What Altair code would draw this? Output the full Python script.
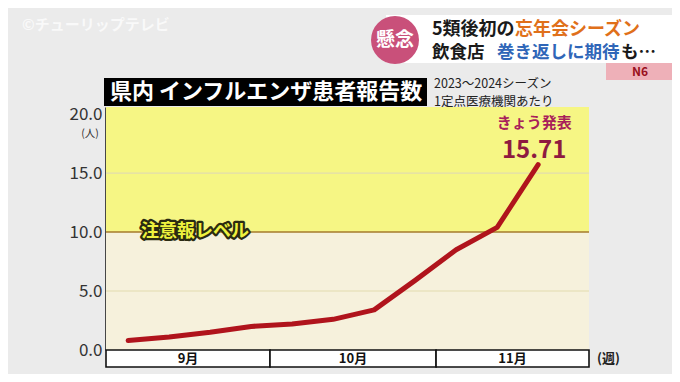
import altair as alt
import pandas as pd

# ---- data ----
weeks = list(range(1, 12))
cases = [0.8, 1.1, 1.5, 2.0, 2.2, 2.6, 3.4, 5.9, 8.5, 10.4, 15.71]
months = ["9月", "10月", "11月"]
month_start = [0.46, 4.46, 8.51]
month_end = [4.46, 8.51, 12.24]
y_ticks = [0, 5, 10, 15, 20]
minor_grid = [5, 15]
alert_level = 10.0
alert_label = "注意報レベル"
y_max = 20.6
x_min, x_max = 0.46, 12.24
latest_label = "きょう発表"
latest_text = "15.71"
title_text = "県内 インフルエンザ患者報告数"
subtitle_1 = "2023～2024シーズン"
subtitle_2 = "1定点医療機関あたり"

W, H = 483, 243
FONT = "Noto Sans CJK JP"

xs = alt.Scale(domain=[x_min, x_max], nice=False, zero=False)
ys = alt.Scale(domain=[0, y_max], nice=False)
yaxis = alt.Axis(values=y_ticks, format=".1f", ticks=False, grid=False,
                 domain=True, domainColor="#111", domainWidth=2.5,
                 labelFont=FONT, labelFontSize=17, labelColor="#333",
                 labelPadding=4, title=None)

line_df = pd.DataFrame({"week": weeks, "cases": cases})
band_df = pd.DataFrame({"lo": [0, alert_level], "hi": [alert_level, y_max],
                        "zone": ["below", "above"]})
grid_df = pd.DataFrame({"v": minor_grid})
level_df = pd.DataFrame({"v": [alert_level], "label": [alert_label]})
month_df = pd.DataFrame({"month": months, "start": month_start, "end": month_end})
latest_df = pd.DataFrame({"week": [weeks[-1]], "cases": [cases[-1]],
                          "lab": [latest_label], "val": [latest_text]})


def Y(field):
    return alt.Y(field, scale=ys, axis=yaxis, title=None)


bands = alt.Chart(band_df).mark_rect().encode(
    x=alt.value(0), x2=alt.value("width"),
    y=Y("lo:Q"), y2="hi:Q",
    color=alt.Color("zone:N", scale=alt.Scale(domain=["below", "above"],
                                              range=["#f6f1dc", "#f6f684"]),
                    legend=None),
)

grid = alt.Chart(grid_df).mark_rule(color="#e2dcae", strokeWidth=1.2).encode(y=Y("v:Q"))

level = alt.Chart(level_df).mark_rule(color="#a47a2c", strokeWidth=1.6).encode(y=Y("v:Q"))

line = alt.Chart(line_df).mark_line(color="#b0141c", strokeWidth=5,
                                    strokeCap="round", strokeJoin="round").encode(
    x=alt.X("week:Q", scale=xs, axis=None), y=Y("cases:Q"))

level_txt_bg = alt.Chart(level_df).mark_text(
    font=FONT, fontSize=18, fontWeight="bold", fill="#2b2b12", stroke="#2b2b12",
    strokeWidth=4.5, strokeJoin="round", align="center", baseline="middle").encode(
    x=alt.value(89), y=Y("v:Q"), text="label:N")
level_txt = alt.Chart(level_df).mark_text(
    font=FONT, fontSize=18, fontWeight="bold", fill="#eef23e",
    align="center", baseline="middle").encode(
    x=alt.value(89), y=Y("v:Q"), text="label:N")

latest_lab = alt.Chart(latest_df).mark_text(
    font=FONT, fontSize=15, fontWeight="bold", color="#a8205a",
    align="center", baseline="middle", dx=-4, dy=-42).encode(
    x=alt.X("week:Q", scale=xs, axis=None), y=Y("cases:Q"), text="lab:N")
latest_val = alt.Chart(latest_df).mark_text(
    font=FONT, fontSize=24, fontWeight="bold", color="#8e1a40",
    align="center", baseline="middle", dx=-4, dy=-14).encode(
    x=alt.X("week:Q", scale=xs, axis=None), y=Y("cases:Q"), text="val:N")

month_rect = alt.Chart(month_df).mark_rect(fill="white", stroke="#111",
                                           strokeWidth=1.6).encode(
    x=alt.X("start:Q", scale=xs, axis=None), x2="end:Q",
    y=alt.value(H), y2=alt.value(H + 17))
month_txt = alt.Chart(month_df).transform_calculate(
    mid="(datum.start + datum.end) / 2").mark_text(
    font=FONT, fontSize=13, fontWeight="bold", color="#111",
    align="center", baseline="middle").encode(
    x=alt.X("mid:Q", scale=xs, axis=None), y=alt.value(H + 9), text="month:N")


def deco_text(text, x, y, size, color, weight="normal", align="left", opacity=1.0):
    return alt.Chart(pd.DataFrame({"t": [text]})).mark_text(
        font=FONT, fontSize=size, fontWeight=weight, color=color, align=align,
        baseline="middle", opacity=opacity).encode(
        text="t:N", x=alt.value(x), y=alt.value(y))


def deco_rect(x, x2, y, y2, color, **kw):
    return alt.Chart(pd.DataFrame({"t": [0]})).mark_rect(color=color, **kw).encode(
        x=alt.value(x), x2=alt.value(x2), y=alt.value(y), y2=alt.value(y2))


title_bar = deco_rect(-2, 321, -29, -1, "#000000")
title_txt = deco_text(title_text, 4, -15, 22, "white", "bold")
sub1 = deco_text(subtitle_1, 328, -23, 12.5, "#222")
sub2 = deco_text(subtitle_2, 328, -5, 12.5, "#222")
unit_y = deco_text("(人)", -16, 27, 10.5, "#333", align="center")
unit_x = deco_text("(週)", 491, H + 9, 13, "#222", "bold")

# TV overlays
watermark = deco_text("©チューリップテレビ", -84, -82, 15, "#ffffff", "bold", opacity=0.7)
banner = deco_rect(280, 566, -92, -44, "#ffffff")
circle = alt.Chart(pd.DataFrame({"t": [0]})).mark_circle(
    size=2300, color="#c9507a", opacity=1).encode(x=alt.value(289), y=alt.value(-67))
circle_txt = deco_text("懸念", 289, -67, 19, "white", "bold", align="center")
l1a = deco_text("5類後初の", 326, -77, 18, "#1a1a1a", "bold")
l1b = deco_text("忘年会シーズン", 409, -77, 18, "#e0701a", "bold")
l2a = deco_text("飲食店", 326, -54, 17.5, "#1a1a1a", "bold")
l2b = deco_text("巻き返しに期待", 391, -54, 17.5, "#2f66b8", "bold")
l2c = deco_text("も…", 515, -54, 17.5, "#1a1a1a", "bold")
badge = deco_rect(500, 566, -44, -27, "#eeb0b8")
badge_txt = deco_text("N6", 534, -35, 12, "#9a1020", "bold", align="center")

chart = alt.layer(
    bands, grid, level, line, level_txt_bg, level_txt, latest_lab, latest_val,
    month_rect, month_txt, title_bar, title_txt, sub1, sub2, unit_y, unit_x,
    watermark, banner, circle, circle_txt, l1a, l1b, l2a, l2b, l2c, badge, badge_txt,
).properties(
    width=W, height=H,
    autosize=alt.AutoSizeParams(type="none"),
    padding={"left": 98, "top": 99, "right": 83, "bottom": 24},
    background="#ebebeb",
).configure_view(stroke=None)

chart.save("out.html", embed_options={"renderer": "svg", "actions": False})
